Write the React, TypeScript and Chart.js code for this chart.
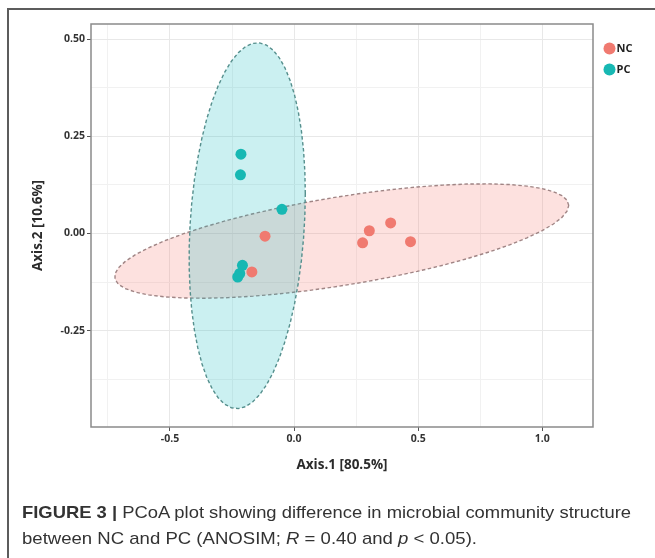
import React, { useEffect, useRef } from "react";
import { Chart, registerables } from "chart.js";

Chart.register(...registerables);

// ---- data ----
const groups = ["NC", "PC"];
const ncX = [-0.117, -0.170, 0.303, 0.389, 0.276, 0.469];
const ncY = [-0.007, -0.099, 0.007, 0.027, -0.024, -0.021];
const pcX = [-0.214, -0.216, -0.049, -0.208, -0.219, -0.227];
const pcY = [0.204, 0.151, 0.062, -0.082, -0.103, -0.112];

const xGridValues = [-0.75, -0.5, -0.25, 0, 0.25, 0.5, 0.75, 1.0];
const xLabelValues = [-0.5, 0, 0.5, 1.0];
const yGridValues = [-0.375, -0.25, -0.125, 0, 0.125, 0.25, 0.375, 0.5];
const yLabelValues = [-0.25, 0, 0.25, 0.5];

const xTitle = "Axis.1 [80.5%]";
const yTitle = "Axis.2 [10.6%]";
const ellipseLevel = 0.95;

const NC_COLOR = "#F07A70";
const PC_COLOR = "#17B8B3";

// 95% confidence ellipse (ggplot2 stat_ellipse type="norm" style)
function ellipse(xs: number[], ys: number[], level: number, segments = 51) {
  const n = xs.length;
  const mx = xs.reduce((a, b) => a + b, 0) / n;
  const my = ys.reduce((a, b) => a + b, 0) / n;
  let sxx = 0, syy = 0, sxy = 0;
  for (let i = 0; i < n; i++) {
    sxx += (xs[i] - mx) ** 2;
    syy += (ys[i] - my) ** 2;
    sxy += (xs[i] - mx) * (ys[i] - my);
  }
  sxx /= n - 1; syy /= n - 1; sxy /= n - 1;
  const dfd = n - 1;
  const qf = (dfd / 2) * (Math.pow(1 - level, -2 / dfd) - 1);
  const radius = Math.sqrt(2 * qf);
  const r11 = Math.sqrt(sxx);
  const r12 = sxy / r11;
  const r22 = Math.sqrt(syy - r12 * r12);
  const pts: { x: number; y: number }[] = [];
  for (let i = 0; i <= segments; i++) {
    const t = (2 * Math.PI * i) / segments;
    const c = Math.cos(t), s = Math.sin(t);
    pts.push({ x: mx + radius * c * r11, y: my + radius * (c * r12 + s * r22) });
  }
  return pts;
}

const FONT = "'Open Sans', 'DejaVu Sans', sans-serif";

export default function App() {
  const ref = useRef<HTMLCanvasElement | null>(null);

  useEffect(() => {
    if (!ref.current) return;
    const toPts = (xs: number[], ys: number[]) => xs.map((x, i) => ({ x, y: ys[i] }));

    const panelPlugin = {
      id: "panel",
      afterDatasetsDraw(chart: any) {
        const { ctx, chartArea } = chart;
        ctx.save();
        ctx.strokeStyle = "#8a8a8a";
        ctx.lineWidth = 1.5;
        ctx.strokeRect(chartArea.left, chartArea.top, chartArea.right - chartArea.left, chartArea.bottom - chartArea.top);
        ctx.restore();
      },
    };

    const legendPlugin = {
      id: "customLegend",
      afterDraw(chart: any) {
        const { ctx } = chart;
        const colors = [NC_COLOR, PC_COLOR];
        ctx.save();
        groups.forEach((g, i) => {
          const cy = 48.5 + i * 21;
          ctx.beginPath();
          ctx.fillStyle = colors[i];
          ctx.arc(609.5, cy, 6, 0, Math.PI * 2);
          ctx.fill();
          ctx.fillStyle = "#222";
          ctx.font = `bold 11px ${FONT}`;
          ctx.textBaseline = "middle";
          ctx.textAlign = "left";
          ctx.fillText(g, 616.5, cy + 0.5);
        });
        ctx.restore();
      },
    };

    const chart = new Chart(ref.current, {
      type: "scatter",
      data: {
        datasets: [
          {
            type: "line",
            label: "NC ellipse",
            data: ellipse(ncX, ncY, ellipseLevel),
            borderColor: "#a08585",
            borderWidth: 1.4,
            borderDash: [3.5, 2.5],
            backgroundColor: "rgba(248,118,109,0.22)",
            fill: "shape",
            pointRadius: 0,
            tension: 0,
            order: 3,
          } as any,
          {
            type: "line",
            label: "PC ellipse",
            data: ellipse(pcX, pcY, ellipseLevel),
            borderColor: "#558f8d",
            borderWidth: 1.4,
            borderDash: [3.5, 2.5],
            backgroundColor: "rgba(20,185,190,0.22)",
            fill: "shape",
            pointRadius: 0,
            tension: 0,
            order: 2,
          } as any,
          {
            label: "NC",
            data: toPts(ncX, ncY),
            backgroundColor: NC_COLOR,
            borderWidth: 0,
            pointRadius: 5.5,
            order: 1,
          },
          {
            label: "PC",
            data: toPts(pcX, pcY),
            backgroundColor: PC_COLOR,
            borderWidth: 0,
            pointRadius: 5.5,
            order: 0,
          },
        ],
      },
      options: {
        animation: false,
        responsive: false,
        maintainAspectRatio: false,
        layout: { padding: { top: 24, right: 62, left: 0, bottom: 0 } },
        plugins: { legend: { display: false }, tooltip: { enabled: false } },
        scales: {
          x: {
            type: "linear",
            min: -0.818,
            max: 1.204,
            afterBuildTicks: (scale: any) => {
              scale.ticks = xGridValues.map((v) => ({ value: v }));
            },
            afterFit: (scale: any) => {
              scale.height = 63;
            },
            border: { display: false },
            grid: {
              color: (ctx: any) => (xLabelValues.includes(ctx.tick?.value) ? "#e8e8e8" : "#f1f1f1"),
              lineWidth: 1,
              tickLength: 4,
              tickColor: (ctx: any) => (xLabelValues.includes(ctx.tick?.value) ? "#555" : "rgba(0,0,0,0)"),
            },
            ticks: {
              autoSkip: false,
              maxRotation: 0,
              padding: 2,
              color: "#333",
              font: { family: FONT, size: 10.5, weight: "bold" },
              callback: (v: any) => (xLabelValues.includes(Number(v)) ? Number(v).toFixed(1) : ""),
            },
            title: {
              display: true,
              text: xTitle,
              color: "#2b2b2b",
              font: { family: FONT, size: 13.5, weight: "bold" },
              padding: { top: 0, bottom: 17 },
            },
          },
          y: {
            type: "linear",
            min: -0.498,
            max: 0.539,
            afterBuildTicks: (scale: any) => {
              scale.ticks = yGridValues.map((v) => ({ value: v }));
            },
            afterFit: (scale: any) => {
              scale.width = 91;
            },
            border: { display: false },
            grid: {
              color: (ctx: any) => (yLabelValues.includes(ctx.tick?.value) ? "#e8e8e8" : "#f1f1f1"),
              lineWidth: 1,
              tickLength: 4,
              tickColor: (ctx: any) => (yLabelValues.includes(ctx.tick?.value) ? "#555" : "rgba(0,0,0,0)"),
            },
            ticks: {
              autoSkip: false,
              padding: 2,
              color: "#333",
              font: { family: FONT, size: 10.5, weight: "bold" },
              callback: (v: any) => (yLabelValues.includes(Number(v)) ? Number(v).toFixed(2) : ""),
            },
            title: {
              display: true,
              text: yTitle,
              color: "#2b2b2b",
              font: { family: FONT, size: 13.5, weight: "bold" },
              padding: { top: 30, bottom: 0 },
            },
          },
        },
      },
      plugins: [panelPlugin, legendPlugin],
    } as any);

    return () => chart.destroy();
  }, []);

  const capFont = "'Liberation Sans', Arial, sans-serif";
  return (
    <div style={{ position: "fixed", left: 0, top: 0, width: 655, height: 558, background: "#fff", overflow: "hidden" }}>
      <div style={{ position: "absolute", left: 7, top: 8, width: 660, height: 600, borderLeft: "2px solid #5c5c5c", borderTop: "2px solid #5c5c5c", boxSizing: "border-box" }} />
      <canvas ref={ref} width={655} height={490} style={{ position: "absolute", left: 0, top: 0, width: 655, height: 490 }} />
      <svg width={655} height={558} style={{ position: "absolute", left: 0, top: 0 }}>
        <text x={22} y={518} fontFamily={capFont} fontSize={17} fill="#333" textLength={609} lengthAdjust="spacingAndGlyphs">
          <tspan fontWeight="bold">FIGURE 3 |</tspan>
          <tspan> PCoA plot showing difference in microbial community structure</tspan>
        </text>
        <text x={22} y={544} fontFamily={capFont} fontSize={17} fill="#333" textLength={455} lengthAdjust="spacingAndGlyphs">
          <tspan>between NC and PC (ANOSIM; </tspan>
          <tspan fontStyle="italic">R</tspan>
          <tspan> = 0.40 and </tspan>
          <tspan fontStyle="italic">p</tspan>
          <tspan> &lt; 0.05).</tspan>
        </text>
      </svg>
    </div>
  );
}
